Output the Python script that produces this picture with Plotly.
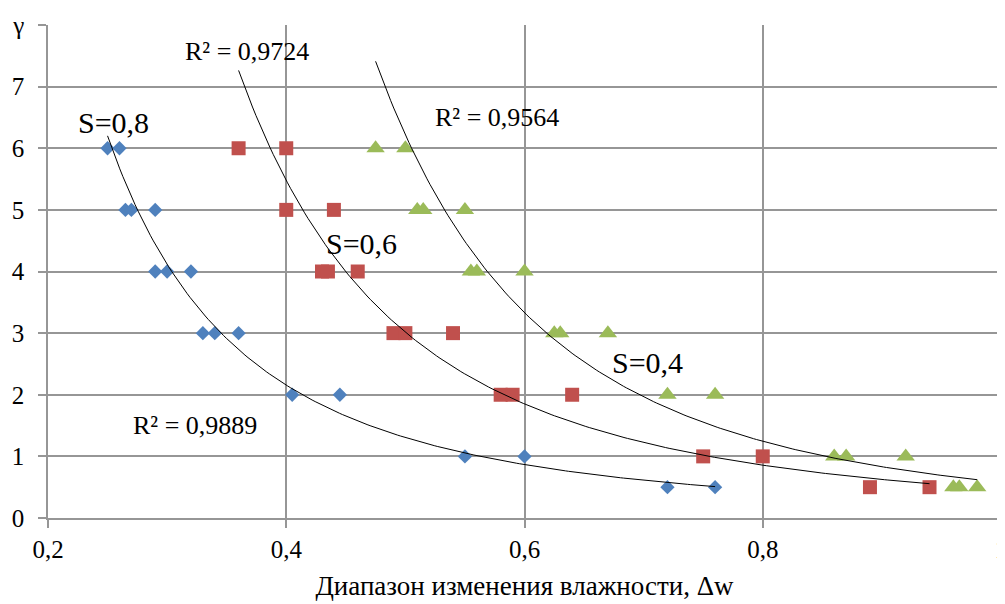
import numpy as np
import plotly.graph_objects as go

# Data
s08_x = [0.25, 0.26, 0.265, 0.27, 0.29, 0.29, 0.30, 0.32, 0.33, 0.34, 0.36, 0.405, 0.445, 0.55, 0.60, 0.72, 0.76]
s08_y = [6, 6, 5, 5, 5, 4, 4, 4, 3, 3, 3, 2, 2, 1, 1, 0.5, 0.5]

s06_x = [0.36, 0.40, 0.40, 0.44, 0.43, 0.435, 0.46, 0.49, 0.50, 0.54, 0.58, 0.59, 0.64, 0.75, 0.80, 0.89, 0.94]
s06_y = [6, 6, 5, 5, 4, 4, 4, 3, 3, 3, 2, 2, 2, 1, 1, 0.5, 0.5]

s04_x = [0.475, 0.50, 0.51, 0.515, 0.55, 0.555, 0.56, 0.60, 0.625, 0.63, 0.67, 0.72, 0.76, 0.86, 0.87, 0.92, 0.96, 0.965, 0.98]
s04_y = [6, 6, 5, 5, 5, 4, 4, 4, 3, 3, 3, 2, 2, 1, 1, 1, 0.5, 0.5, 0.5]

x_ticks = [0.2, 0.4, 0.6, 0.8, 1.0]
x_ticktext = ["0,2", "0,4", "0,6", "0,8", "1"]
y_ticks = [0, 1, 2, 3, 4, 5, 6, 7, 8]
y_ticktext = ["0", "1", "2", "3", "4", "5", "6", "7", "γ"]

labels = ["S=0,8", "S=0,6", "S=0,4"]
r2_text = ["R² = 0,9889", "R² = 0,9724", "R² = 0,9564"]

FONT = "'Times New Roman', 'Liberation Serif', 'DejaVu Serif', serif"
GRID = "#969696"

fig = go.Figure()


def power_fit(xs, ys):
    xs = np.asarray(xs, float)
    ys = np.asarray(ys, float)
    b, lna = np.polyfit(np.log(xs), np.log(ys), 1)
    xx = np.linspace(xs.min(), xs.max(), 200)
    return xx, np.exp(lna) * xx ** b


series = [
    (s08_x, s08_y, "diamond", 11, "#4F81BD"),
    (s06_x, s06_y, "square", 14, "#C0504D"),
    (s04_x, s04_y, "triangle-up", 16, "#9BBB59"),
]

for xs, ys, sym, size, col in series:
    fig.add_trace(go.Scatter(
        x=xs, y=ys, mode="markers",
        marker=dict(symbol=sym, size=size, color=col, line=dict(width=0)),
        showlegend=False, cliponaxis=False,
    ))

for xs, ys, sym, size, col in series:
    fx, fy = power_fit(xs, ys)
    fig.add_trace(go.Scatter(
        x=fx, y=fy, mode="lines", line=dict(color="black", width=1),
        showlegend=False, hoverinfo="skip",
    ))

ann = [
    (0.2548, 6.41, labels[0], 30),
    (0.4635, 4.45, labels[1], 30),
    (0.7036, 2.52, labels[2], 30),
    (0.3237, 1.50, r2_text[0], 26),
    (0.367, 7.57, r2_text[1], 26),
    (0.577, 6.50, r2_text[2], 26),
]
for x, y, t, fs in ann:
    fig.add_annotation(x=x, y=y, text=t, showarrow=False,
                       font=dict(family=FONT, size=fs, color="black"),
                       xanchor="center", yanchor="middle")

fig.update_xaxes(
    range=[0.2, 1.0], tickvals=x_ticks, ticktext=x_ticktext,
    showgrid=True, gridcolor=GRID, gridwidth=1.5,
    showline=True, linecolor=GRID, linewidth=1.5,
    ticks="outside", ticklen=8, tickcolor=GRID, tickwidth=1.5,
    zeroline=False, automargin=False,
    tickfont=dict(family=FONT, size=25, color="black"),
    title=dict(text="Диапазон изменения влажности, Δw",
               font=dict(family=FONT, size=27, color="black"), standoff=14),
)
fig.update_yaxes(
    range=[0, 8], tickvals=y_ticks, ticktext=y_ticktext,
    showgrid=True, gridcolor=GRID, gridwidth=1.5,
    showline=True, linecolor=GRID, linewidth=1.5,
    ticks="outside", ticklen=8, tickcolor=GRID, tickwidth=1.5,
    zeroline=False, automargin=False, ticklabelstandoff=9,
    tickfont=dict(family=FONT, size=25, color="black"),
)

fig.update_layout(
    width=1005, height=604,
    margin=dict(l=40, r=12, t=17, b=94),
    plot_bgcolor="white", paper_bgcolor="white",
    font=dict(family=FONT),
)

fig.write_html("out.html")
